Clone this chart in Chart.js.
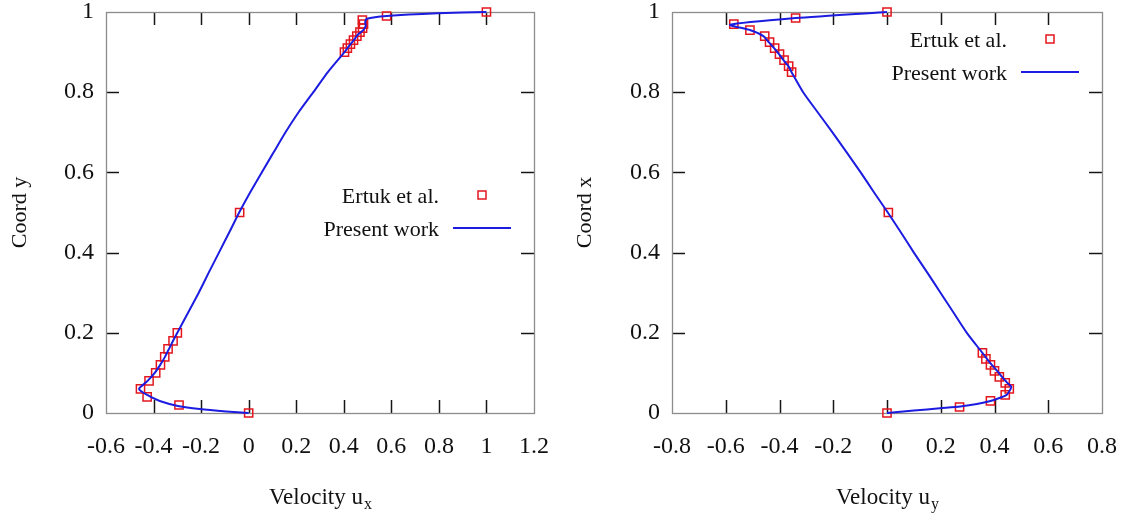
<!DOCTYPE html>
<html>
<head>
<meta charset="utf-8">
<style>
  html, body { margin: 0; padding: 0; background: #fff; }
  #wrap { position: relative; width: 1128px; height: 513px; }
  .box { position: absolute; top: 0; width: 564px; height: 513px; }
</style>
</head>
<body>
<div id="wrap">
  <div class="box" style="left:0"><canvas id="chartUx" width="564" height="513"></canvas></div>
  <div class="box" style="left:564px"><canvas id="chartUy" width="564" height="513"></canvas></div>
</div>

<script src="https://cdn.jsdelivr.net/npm/chart.js@4.4.1/dist/chart.umd.min.js"></script>
<script>
// Series names
const seriesLabels = ['Ertuk et al.', 'Present work'];

// Left panel: u_x along the vertical centreline (position y)
const ertukPosY = [1.0, 0.99, 0.98, 0.97, 0.96, 0.95, 0.94, 0.93, 0.92, 0.91, 0.90, 0.5, 0.2, 0.18, 0.16, 0.14, 0.12, 0.10, 0.08, 0.06, 0.04, 0.02, 0.0];
const ertukUx   = [1.0, 0.58, 0.478, 0.483, 0.479, 0.468, 0.455, 0.441, 0.428, 0.415, 0.403, -0.038, -0.30, -0.318, -0.339, -0.353, -0.371, -0.391, -0.419, -0.455, -0.427, -0.293, 0.0];
const presentPosY = [0, 0.004, 0.01, 0.017, 0.03, 0.045, 0.06, 0.08, 0.10, 0.12, 0.14, 0.16, 0.18, 0.20, 0.25, 0.30, 0.35, 0.40, 0.45, 0.50, 0.55, 0.60, 0.65, 0.70, 0.75, 0.80, 0.85, 0.90, 0.915, 0.93, 0.945, 0.955, 0.965, 0.975, 0.983, 0.99, 0.997, 1.0];
const presentUx   = [0, -0.094, -0.206, -0.293, -0.374, -0.427, -0.461, -0.425, -0.395, -0.372, -0.352, -0.335, -0.318, -0.300, -0.255, -0.21, -0.168, -0.125, -0.082, -0.04, 0.006, 0.055, 0.105, 0.155, 0.21, 0.272, 0.333, 0.403, 0.422, 0.442, 0.462, 0.482, 0.492, 0.49, 0.497, 0.58, 0.794, 1.0];

// Right panel: u_y along the horizontal centreline (position x)
const ertukPosX = [1.0, 0.985, 0.97, 0.955, 0.94, 0.925, 0.91, 0.895, 0.88, 0.865, 0.85, 0.5, 0.15, 0.135, 0.12, 0.105, 0.09, 0.075, 0.06, 0.045, 0.03, 0.015, 0.0];
const ertukUy   = [0, -0.34, -0.57, -0.51, -0.455, -0.437, -0.418, -0.40, -0.383, -0.366, -0.355, 0.005, 0.355, 0.368, 0.385, 0.40, 0.418, 0.44, 0.455, 0.44, 0.385, 0.27, 0];
const presentPosX = [0, 0.006, 0.012, 0.016, 0.03, 0.045, 0.06, 0.066, 0.075, 0.09, 0.105, 0.12, 0.135, 0.15, 0.20, 0.25, 0.30, 0.35, 0.40, 0.45, 0.50, 0.55, 0.60, 0.65, 0.70, 0.75, 0.80, 0.85, 0.865, 0.88, 0.895, 0.91, 0.925, 0.94, 0.955, 0.968, 0.985, 1.0];
const presentUy   = [0, 0.10, 0.197, 0.272, 0.385, 0.445, 0.460, 0.462, 0.448, 0.428, 0.41, 0.39, 0.372, 0.355, 0.297, 0.248, 0.199, 0.15, 0.10, 0.052, 0.003, -0.048, -0.098, -0.15, -0.203, -0.258, -0.312, -0.355, -0.367, -0.385, -0.402, -0.42, -0.44, -0.46, -0.51, -0.584, -0.34, 0];

// Tick values
const uxTicks = [-0.6, -0.4, -0.2, 0, 0.2, 0.4, 0.6, 0.8, 1.0, 1.2];
const uyTicks = [-0.8, -0.6, -0.4, -0.2, 0, 0.2, 0.4, 0.6, 0.8];
const coordTicks = [0, 0.2, 0.4, 0.6, 0.8, 1.0];

const SERIF = '"Liberation Serif", "Times New Roman", serif';
const RED = '#e3161e';
const BLUE = '#1c1ce0';

function fmt(v) { return String(+Number(v).toFixed(1)); }

function line(ctx, x1, y1, x2, y2) {
  ctx.beginPath(); ctx.moveTo(x1, y1); ctx.lineTo(x2, y2); ctx.stroke();
}

// frame with inward ticks on all four sides
const framePlugin = {
  id: 'frame',
  beforeDatasetsDraw(chart) {
    const { ctx, chartArea: a, scales: { x, y } } = chart;
    ctx.save();
    ctx.strokeStyle = '#151515';
    ctx.lineWidth = 1.5;
    x.ticks.forEach(t => {
      const px = Math.round(x.getPixelForValue(t.value)) + 0.5;
      if (px <= a.left + 2 || px >= a.right - 2) return;
      line(ctx, px, a.bottom, px, a.bottom - 13);
      line(ctx, px, a.top, px, a.top + 13);
    });
    y.ticks.forEach(t => {
      const py = Math.round(y.getPixelForValue(t.value)) + 0.5;
      if (py <= a.top + 2 || py >= a.bottom - 2) return;
      line(ctx, a.left, py, a.left + 13, py);
      line(ctx, a.right, py, a.right - 13, py);
    });
    ctx.strokeStyle = '#8c8c8c';
    ctx.lineWidth = 1.3;
    ctx.strokeRect(a.left + 0.5, a.top + 0.5, a.right - a.left, a.bottom - a.top);
    ctx.restore();
  },
  afterDraw(chart, args, o) {
    const { ctx, chartArea: a } = chart;
    ctx.save();
    ctx.fillStyle = '#111';
    // legend
    ctx.font = '22px ' + SERIF;
    ctx.textAlign = 'right';
    ctx.textBaseline = 'middle';
    const lx = a.right - 95;
    ctx.fillText(seriesLabels[0], lx, o.legendTop);
    ctx.fillText(seriesLabels[1], lx, o.legendTop + 33);
    ctx.strokeStyle = RED; ctx.lineWidth = 1.5;
    ctx.strokeRect(a.right - 56, o.legendTop - 6, 8, 8);
    ctx.strokeStyle = BLUE; ctx.lineWidth = 2;
    line(ctx, a.right - 81, o.legendTop + 31, a.right - 23, o.legendTop + 31);

    // x axis title with subscript
    const cx = (a.left + a.right) / 2;
    ctx.textAlign = 'left';
    ctx.textBaseline = 'alphabetic';
    ctx.font = '23px ' + SERIF;
    const w1 = ctx.measureText(o.xTitle).width;
    ctx.font = '16px ' + SERIF;
    const w2 = ctx.measureText(o.xSub).width;
    const sx = cx - (w1 + w2) / 2;
    ctx.font = '23px ' + SERIF;
    ctx.fillText(o.xTitle, sx, 504);
    ctx.font = '16px ' + SERIF;
    ctx.fillText(o.xSub, sx + w1 + 1, 509);

    // y axis title
    ctx.translate(o.yTitleX, (a.top + a.bottom) / 2);
    ctx.rotate(-Math.PI / 2);
    ctx.font = '22px ' + SERIF;
    ctx.textAlign = 'center';
    ctx.textBaseline = 'middle';
    ctx.fillText(o.yTitle, 0, 0);
    ctx.restore();
  }
};

function makeChart(id, vel, pos, pVel, pPos, xTicks, cfg) {
  const tickFont = { family: SERIF, size: 24 };
  return new Chart(document.getElementById(id), {
    type: 'scatter',
    data: {
      datasets: [
        {
          label: seriesLabels[0],
          data: vel.map((v, i) => ({ x: v, y: pos[i] })),
          pointStyle: 'rect',
          pointRadius: 5.8,
          pointBorderColor: RED,
          pointBackgroundColor: 'rgba(0,0,0,0)',
          pointBorderWidth: 1.5,
          showLine: false,
          clip: false,
          order: 1
        },
        {
          label: seriesLabels[1],
          data: pVel.map((v, i) => ({ x: v, y: pPos[i] })),
          showLine: true,
          borderColor: BLUE,
          borderWidth: 2,
          pointRadius: 0,
          tension: 0.2,
          clip: false,
          order: 0
        }
      ]
    },
    options: {
      responsive: false,
      animation: false,
      layout: { padding: { left: 0, right: cfg.padRight, top: 12, bottom: 0 } },
      plugins: {
        legend: { display: false },
        tooltip: { enabled: false },
        frame: cfg
      },
      scales: {
        x: {
          type: 'linear',
          min: xTicks[0],
          max: xTicks[xTicks.length - 1],
          afterBuildTicks(s) { s.ticks = xTicks.map(v => ({ value: v })); },
          afterFit(s) { s.height = 100; s.paddingLeft = 0; s.paddingRight = 0; },
          grid: { display: false, drawTicks: false },
          border: { display: false },
          ticks: { font: tickFont, color: '#111', padding: 19, maxRotation: 0, autoSkip: false, callback: v => fmt(v) }
        },
        y: {
          type: 'linear',
          min: 0,
          max: 1,
          afterBuildTicks(s) { s.ticks = coordTicks.map(v => ({ value: v })); },
          afterFit(s) { s.width = cfg.yWidth; s.paddingTop = 0; s.paddingBottom = 0; },
          grid: { display: false, drawTicks: false },
          border: { display: false },
          ticks: { font: tickFont, color: '#111', padding: 12, autoSkip: false, callback: v => fmt(v) }
        }
      }
    },
    plugins: [framePlugin]
  });
}

makeChart('chartUx', ertukUx, ertukPosY, presentUx, presentPosY, uxTicks, {
  yWidth: 106, padRight: 30, legendTop: 197,
  xTitle: 'Velocity u', xSub: 'x', yTitle: 'Coord y', yTitleX: 20
});
makeChart('chartUy', ertukUy, ertukPosX, presentUy, presentPosX, uyTicks, {
  yWidth: 108, padRight: 26, legendTop: 41,
  xTitle: 'Velocity u', xSub: 'y', yTitle: 'Coord x', yTitleX: 21
});
</script>
</body>
</html>
